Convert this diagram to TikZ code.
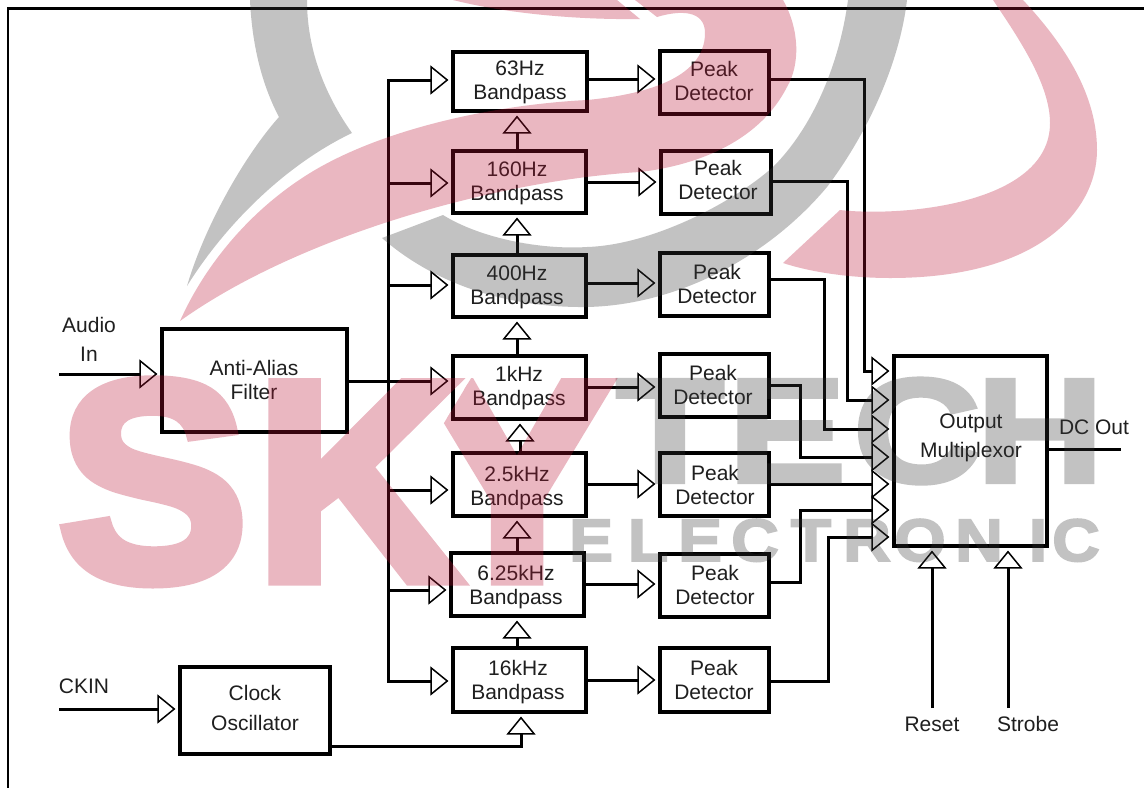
\documentclass[tikz,border=0pt]{standalone}
\usepackage{fontspec}
\setmainfont{Liberation Sans}
\newfontfamily\wmbig[FakeBold=4]{Liberation Sans Bold}
\newfontfamily\wmmid[FakeBold=3,FakeStretch=1.2]{Liberation Sans Bold}
\newfontfamily\wmsmall[FakeBold=3,FakeStretch=1.1]{Liberation Sans Bold}
\usetikzlibrary{arrows.meta,calc}
\definecolor{wmr}{rgb}{0.73,0.07,0.2}
\definecolor{wmg}{gray}{0.22}
\tikzset{
  x=1pt,y=-1pt,
  ink/.style={draw=black},
  boxnode/.style={ink,line width=3.1pt,rectangle,inner sep=0pt},
  wire/.style={ink,line width=3pt},
  arr/.style={ink,line width=3pt,-{Triangle[open,length=18pt,width=29pt,line width=1.5pt,black]},shorten >=3pt},
  lbl/.style={font=\fontsize{21}{24}\selectfont,align=center,text=black!88,inner sep=0pt},
  wlbl/.style={font=\fontsize{21}{29}\selectfont,align=center,text=black!88,inner sep=0pt},
  wmredt/.style={text=wmr,inner sep=0pt,anchor=base,font=\wmbig\fontsize{285}{285}\selectfont},
  wmgrayt/.style={text=wmg,inner sep=0pt,anchor=base,font=\wmmid\fontsize{148}{148}\selectfont},
  wmgrays/.style={text=wmg,inner sep=0pt,anchor=base,font=\wmsmall\fontsize{60}{60}\selectfont},
}
% name, x1,y1,x2,y2
\newcommand{\bx}[5]{\node[boxnode,minimum width={(#4-#2)*1pt},minimum height={(#5-#3)*1pt}] (#1) at ({(#2+#4)/2},{(#3+#5)/2}) {};}
\begin{document}
\begin{tikzpicture}
\useasboundingbox (0,0) rectangle (1144,788);
\fill[white] (0,0) rectangle (1144,788);
% frame
\coordinate (fa) at (1144,8.5);
\coordinate (fb) at (8,8.5);
\coordinate (fc) at (8,788);
\draw[ink,line width=2.6pt] (fa) -- (fb) -- (fc);
% blocks
\bx{b1}{453}{52}{587}{111}
\bx{b2}{453}{151}{586}{213}
\bx{b3}{453}{255}{586}{317}
\bx{b4}{453}{356}{586}{419}
\bx{b5}{453}{453}{586}{516}
\bx{b6}{451}{553}{584}{616}
\bx{b7}{453}{648}{586}{712}
\bx{p1}{660}{51}{769}{114}
\bx{p2}{661}{151}{771}{214}
\bx{p3}{660}{253}{769}{316}
\bx{p4}{660}{354}{769}{417}
\bx{p5}{660}{453}{769}{516}
\bx{p6}{660}{554}{769}{617}
\bx{p7}{660}{648}{769}{712}
\bx{aa}{162}{329}{347}{432}
\bx{ck}{180}{667}{330}{754}
\bx{mx}{894}{356}{1047}{546}
% block texts
\node[lbl] (tb1) at (520,82.5) {63Hz\\Bandpass};
\node[lbl] (tb2) at (517,183.5) {160Hz\\Bandpass};
\node[lbl] (tb3) at (517,287) {400Hz\\Bandpass};
\node[lbl] (tb4) at (519,388) {1kHz\\Bandpass};
\node[lbl] (tb5) at (517,488) {2.5kHz\\Bandpass};
\node[lbl] (tb6) at (516,587) {6.25kHz\\Bandpass};
\node[lbl] (tb7) at (518,682) {16kHz\\Bandpass};
\node[lbl] (tp1) at (714,80.5) {Peak\\Detector};
\node[lbl] (tp2) at (718,179.5) {Peak\\Detector};
\node[lbl] (tp3) at (717,283.5) {Peak\\Detector};
\node[lbl] (tp4) at (713,384.5) {Peak\\Detector};
\node[lbl] (tp5) at (715,484.5) {Peak\\Detector};
\node[lbl] (tp6) at (715,584.5) {Peak\\Detector};
\node[lbl] (tp7) at (714,679.5) {Peak\\Detector};
\node[lbl] (taa) at (254,379.5) {Anti-Alias\\Filter};
\node[wlbl,font=\fontsize{21}{30}\selectfont] (tck) at (255,707.5) {Clock\\Oscillator};
\node[wlbl] (tmx) at (971,438) {Output\\Multiplexor};
% free labels and ends
\node[wlbl] (audio) at (89,339.5) {Audio\\In};
\node[wlbl] (ckin) at (84,686) {CKIN};
\node[wlbl] (dco) at (1094,427) {DC Out};
\node[wlbl] (rst) at (932,724) {Reset};
\node[wlbl] (stb) at (1028,724) {Strobe};
\coordinate (ain) at (59,374);
\coordinate (cin) at (59,709);
\coordinate (dcend) at (1121,449);
\coordinate (rstb) at (932,708);
\coordinate (stbb) at (1008,708);
\draw[arr] (ain) -- (ain -| aa.west);
\draw[arr] (cin) -- (cin -| ck.west);
\draw[wire] (mx.east |- dcend) -- (dcend);
\draw[arr] (rstb) -- (rstb |- mx.south);
\draw[arr] (stbb) -- (stbb |- mx.south);
% bus
\coordinate (t1) at (388,80);
\coordinate (t2) at (388,183);
\coordinate (t3) at (388,285);
\coordinate (t4) at (388,381);
\coordinate (t5) at (388,490);
\coordinate (t6) at (388,590);
\coordinate (t7) at (388,681);
\draw[wire,line cap=rect] (t1) -- (t7);
\draw[arr] (aa.east |- t4) -- (t4 -| b4.west);
\draw[arr] (t1) -- (t1 -| b1.west);
\draw[arr] (t2) -- (t2 -| b2.west);
\draw[arr] (t3) -- (t3 -| b3.west);
\draw[arr] (t5) -- (t5 -| b5.west);
\draw[arr] (t6) -- (t6 -| b6.west);
\draw[arr] (t7) -- (t7 -| b7.west);
% clock chain
\coordinate (v1) at (517,0);
\coordinate (v2) at (520,0);
\coordinate (v3) at (521,746);
\draw[arr] (b2.north -| v1) -- (b1.south -| v1);
\draw[arr] (b3.north -| v1) -- (b2.south -| v1);
\draw[arr] (b4.north -| v1) -- (b3.south -| v1);
\draw[arr] (b5.north -| v2) -- (b4.south -| v2);
\draw[arr] (b6.north -| v1) -- (b5.south -| v1);
\draw[arr] (b7.north -| v1) -- (b6.south -| v1);
\draw[arr] (ck.east |- v3) -- (v3) -- (v3 |- b7.south);
% band to detector
\coordinate (h1) at (0,79);
\coordinate (h2) at (0,182);
\coordinate (h3) at (0,283);
\coordinate (h4) at (0,387);
\coordinate (h5) at (0,484);
\coordinate (h6) at (0,584);
\coordinate (h7) at (0,680);
\draw[arr] (h1 -| b1.east) -- (h1 -| p1.west);
\draw[arr] (h2 -| b2.east) -- (h2 -| p2.west);
\draw[arr] (h3 -| b3.east) -- (h3 -| p3.west);
\draw[arr] (h4 -| b4.east) -- (h4 -| p4.west);
\draw[arr] (h5 -| b5.east) -- (h5 -| p5.west);
\draw[arr] (h6 -| b6.east) -- (h6 -| p6.west);
\draw[arr] (h7 -| b7.east) -- (h7 -| p7.west);
% detector to multiplexor
\coordinate (m1) at (864,371);
\coordinate (m2) at (847,400);
\coordinate (m3) at (824,429);
\coordinate (m4) at (800,457);
\coordinate (m5) at (800,484);
\coordinate (m6) at (800,510);
\coordinate (m7) at (828,537);
\coordinate (q1) at (0,79);
\coordinate (q2) at (0,181);
\coordinate (q3) at (0,279);
\coordinate (q4) at (0,385);
\coordinate (q6) at (0,582);
\coordinate (q7) at (0,681);
\draw[arr] (q1 -| p1.east) -| (m1) -- (m1 -| mx.west);
\draw[arr] (q2 -| p2.east) -| (m2) -- (m2 -| mx.west);
\draw[arr] (q3 -| p3.east) -| (m3) -- (m3 -| mx.west);
\draw[arr] (q4 -| p4.east) -| (m4) -- (m4 -| mx.west);
\draw[arr] (m5 -| p5.east) -- (m5 -| mx.west);
\draw[arr] (q6 -| p6.east) -| (m6) -- (m6 -| mx.west);
\draw[arr] (q7 -| p7.east) -| (m7) -- (m7 -| mx.west);
% watermark, gray parts
\begin{scope}[transparency group,opacity=0.3]
\path (0,0) rectangle (1144,788);
\fill[wmg] (250,0) .. controls (252,45) and (262,85) .. (279,117)
  .. controls (245,155) and (205,225) .. (187,286)
  .. controls (225,225) and (285,165) .. (352,133)
  .. controls (325,95) and (307,50) .. (307,0) -- cycle;
\fill[wmg] (907,0) .. controls (900,60) and (870,130) .. (827,187)
  .. controls (770,255) and (680,305) .. (587,307)
  .. controls (500,308) and (430,280) .. (382,238)
  -- (443,215) .. controls (480,238) and (540,250) .. (587,247)
  .. controls (650,245) and (730,205) .. (773,167)
  .. controls (815,125) and (840,60) .. (848,0) -- cycle;
\node[wmgrayt] (wT) at (670,482) {T};
\node[wmgrayt] (wE) at (787,482) {E};
\node[wmgrayt] (wC) at (917,482) {C};
\node[wmgrayt] (wH) at (1040,482) {H};
\node[wmgrays] (we1) at (591,561) {E};
\node[wmgrays] (wl) at (648,561) {L};
\node[wmgrays] (we2) at (700,561) {E};
\node[wmgrays] (wc1) at (755,561) {C};
\node[wmgrays] (wt2) at (811,561) {T};
\node[wmgrays] (wr) at (867,561) {R};
\node[wmgrays] (wo) at (920,561) {O};
\node[wmgrays] (wn) at (979,561) {N};
\node[wmgrays] (wi) at (1038,561) {I};
\node[wmgrays] (wc2) at (1076,561) {C};
\end{scope}
% watermark, red parts
\begin{scope}[transparency group,opacity=0.3]
\path (0,0) rectangle (1144,788);
\fill[wmr] (180,321) .. controls (205,265) and (250,210) .. (310,173)
  .. controls (380,130) and (490,105) .. (587,100)
  .. controls (640,95) and (705,80) .. (705,33)
  .. controls (705,10) and (680,10) .. (657,17)
  -- (635,0) -- (783,0)
  .. controls (800,30) and (800,65) .. (787,87)
  .. controls (760,140) and (700,165) .. (640,172)
  .. controls (500,180) and (300,235) .. (180,321) -- cycle;
\fill[wmr] (453,0) -- (617,0) -- (640,19) .. controls (570,20) and (500,12) .. (453,0) -- cycle;
\fill[wmr] (1023,0) .. controls (1065,45) and (1097,95) .. (1097,150)
  .. controls (1097,210) and (1040,278) .. (890,278)
  .. controls (850,278) and (810,272) .. (783,263)
  -- (840,210) .. controls (900,217) and (1050,205) .. (1050,123)
  .. controls (1050,85) and (1020,40) .. (993,0) -- cycle;
\node[wmredt] (wS) at (153,580) {S};
\node[wmredt] (wK) at (358,580) {K};
\begin{scope}
\clip (482,360) -- (640,360) -- (640,600) -- (470,600) -- (438,433) -- cycle;
\node[wmredt] (wY) at (517,580) {Y};
\end{scope}
\end{scope}
\end{tikzpicture}
\end{document}
